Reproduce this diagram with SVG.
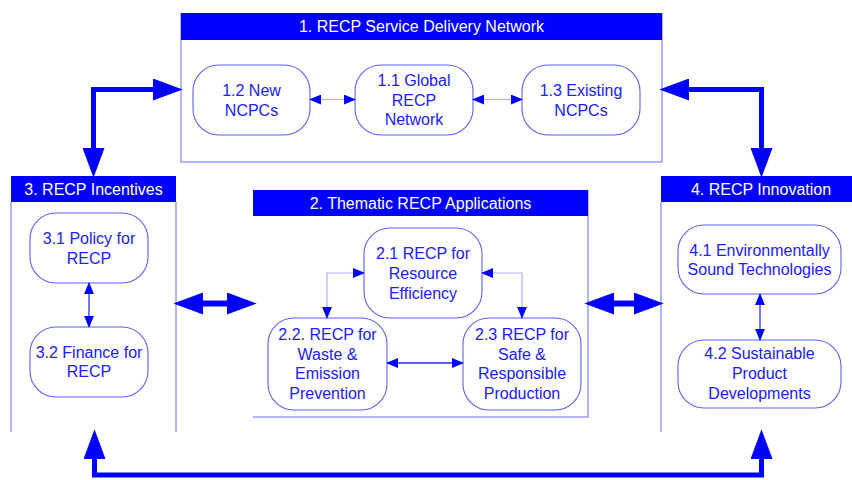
<svg xmlns="http://www.w3.org/2000/svg" width="852" height="480" viewBox="0 0 852 480">
<style>
  .hdr { fill: #0000ff; }
  .hdrt { font-family: "Liberation Sans", Arial, sans-serif; font-size: 16px; fill: #ffffff; text-anchor: middle; }
  .pline { stroke: #9a9aff; stroke-width: 1.5; fill: none; }
  .node { fill: #ffffff; stroke: #5f5fff; stroke-width: 1.1; }
  .nt { font-family: "Liberation Sans", Arial, sans-serif; font-size: 16px; fill: #2020ff; text-anchor: middle; }
  .big { stroke: #0000ff; stroke-width: 5; fill: none; stroke-linejoin: miter; }
  .bigh { stroke: #0000ff; stroke-width: 6; fill: none; }
  .thin { stroke: #b0b0ff; stroke-width: 1.2; fill: none; }
  .thind { stroke: #2a2aff; stroke-width: 1.3; fill: none; }
</style>
<defs>
  <marker id="bh" markerUnits="userSpaceOnUse" markerWidth="30" markerHeight="22" refX="0" refY="10" orient="auto-start-reverse" viewBox="0 0 27 20">
    <path d="M0,0 L27,10 L0,20 Z" fill="#0000ff"/>
  </marker>
  <marker id="sh" markerUnits="userSpaceOnUse" markerWidth="12" markerHeight="10" refX="0" refY="4.5" orient="auto-start-reverse" viewBox="0 0 11 9">
    <path d="M0,0 L11,4.5 L0,9 Z" fill="#0000ff"/>
  </marker>
</defs>

<!-- Panels -->
<g id="panel1">
  <path class="pline" d="M181,13 V162 H662 V13"/>
  <rect class="hdr" x="181" y="13" width="481" height="27"/>
  <text class="hdrt" x="421.5" y="32">1. RECP Service Delivery Network</text>
</g>
<g id="panel3">
  <path class="pline" d="M11,202 V432 M176,202 V432"/>
  <rect class="hdr" x="11" y="176" width="165" height="26"/>
  <text class="hdrt" x="93.5" y="195">3. RECP Incentives</text>
</g>
<g id="panel2">
  <path class="pline" d="M588,190 V417 H253"/>
  <rect class="hdr" x="253" y="190" width="335" height="26"/>
  <text class="hdrt" x="420.5" y="209">2. Thematic RECP Applications</text>
</g>
<g id="panel4">
  <path class="pline" d="M661,202 V432"/>
  <rect class="hdr" x="661" y="176" width="195" height="26"/>
  <text class="hdrt" x="761" y="195">4. RECP Innovation</text>
</g>

<!-- Nodes -->
<g id="n12">
  <rect class="node" x="193" y="65" width="117" height="70" rx="26"/>
  <text class="nt" x="251.5" y="96">1.2 New</text>
  <text class="nt" x="251.5" y="116">NCPCs</text>
</g>
<g id="n11">
  <rect class="node" x="355" y="65" width="118" height="70" rx="26"/>
  <text class="nt" x="414" y="86">1.1 Global</text>
  <text class="nt" x="414" y="105.5">RECP</text>
  <text class="nt" x="414" y="125">Network</text>
</g>
<g id="n13">
  <rect class="node" x="522" y="65" width="118" height="70" rx="26"/>
  <text class="nt" x="581" y="96">1.3 Existing</text>
  <text class="nt" x="581" y="116">NCPCs</text>
</g>
<g id="n31">
  <rect class="node" x="30" y="213" width="118" height="70" rx="26"/>
  <text class="nt" x="89" y="244">3.1 Policy for</text>
  <text class="nt" x="89" y="264">RECP</text>
</g>
<g id="n32">
  <rect class="node" x="30" y="327" width="118" height="70" rx="26"/>
  <text class="nt" x="89" y="358">3.2 Finance for</text>
  <text class="nt" x="89" y="377">RECP</text>
</g>
<g id="n21">
  <rect class="node" x="364" y="228" width="118" height="90" rx="26"/>
  <text class="nt" x="423" y="259">2.1 RECP for</text>
  <text class="nt" x="423" y="279">Resource</text>
  <text class="nt" x="423" y="299">Efficiency</text>
</g>
<g id="n22">
  <rect class="node" x="268" y="318" width="119" height="92" rx="26"/>
  <text class="nt" x="327.5" y="340">2.2. RECP for</text>
  <text class="nt" x="327.5" y="360">Waste &amp;</text>
  <text class="nt" x="327.5" y="379">Emission</text>
  <text class="nt" x="327.5" y="399">Prevention</text>
</g>
<g id="n23">
  <rect class="node" x="463" y="318" width="118" height="92" rx="26"/>
  <text class="nt" x="522" y="340">2.3 RECP for</text>
  <text class="nt" x="522" y="360">Safe &amp;</text>
  <text class="nt" x="522" y="379">Responsible</text>
  <text class="nt" x="522" y="399">Production</text>
</g>
<g id="n41">
  <rect class="node" x="678" y="225" width="163" height="69" rx="26"/>
  <text class="nt" x="759.5" y="256">4.1 Environmentally</text>
  <text class="nt" x="759.5" y="275">Sound Technologies</text>
</g>
<g id="n42">
  <rect class="node" x="678" y="340" width="163" height="68" rx="26"/>
  <text class="nt" x="759.5" y="359">4.2 Sustainable</text>
  <text class="nt" x="759.5" y="379">Product</text>
  <text class="nt" x="759.5" y="399">Developments</text>
</g>

<!-- Connectors -->
<g id="connectors">
  <path class="big" d="M93.5,148 V89.5 H153" marker-start="url(#bh)" marker-end="url(#bh)"/>
  <path class="big" d="M761.5,148 V89.5 H689" marker-start="url(#bh)" marker-end="url(#bh)"/>
  <path class="big" d="M94.5,459 V475 H761.5 V459" marker-start="url(#bh)" marker-end="url(#bh)"/>
  <path class="bigh" d="M203,303.5 H227" marker-start="url(#bh)" marker-end="url(#bh)"/>
  <path class="bigh" d="M614,303.5 H634" marker-start="url(#bh)" marker-end="url(#bh)"/>
  <path class="thin" d="M321,99.5 H344" marker-start="url(#sh)" marker-end="url(#sh)"/>
  <path class="thin" d="M484,99.5 H511" marker-start="url(#sh)" marker-end="url(#sh)"/>
  <path class="thind" d="M89,294 V316" marker-start="url(#sh)" marker-end="url(#sh)"/>
  <path class="thind" d="M760,305 V329" marker-start="url(#sh)" marker-end="url(#sh)"/>
  <path class="thind" d="M398,363 H452" marker-start="url(#sh)" marker-end="url(#sh)"/>
  <path class="thin" d="M353,273 H327 V307" marker-start="url(#sh)" marker-end="url(#sh)"/>
  <path class="thin" d="M493,273 H522 V307" marker-start="url(#sh)" marker-end="url(#sh)"/>
</g>
</svg>
